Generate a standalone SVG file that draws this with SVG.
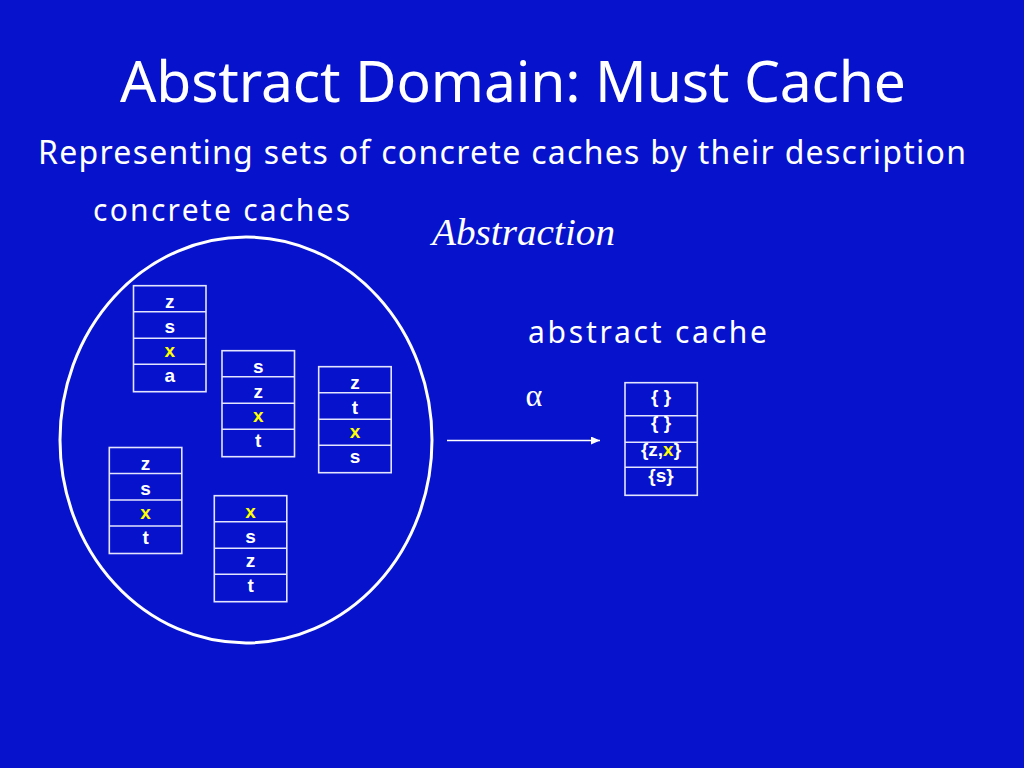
<svg xmlns="http://www.w3.org/2000/svg" width="1024" height="768" viewBox="0 0 1024 768">
<style>
.bg{fill:#0612CC}
.h{font-family:"Comic Sans MS","Noto Sans",sans-serif;fill:#FFFFFF}
.box{fill:none;stroke:#E4E4FF;stroke-width:1.6}
.ln{stroke:#E4E4FF;stroke-width:1.6}
.c{font-family:"Liberation Sans",Arial,sans-serif;font-weight:bold;font-size:19px;fill:#FFFFFF;text-anchor:middle}
.y{fill:#FFFF00}
.serif{font-family:"Liberation Serif","Times New Roman",serif;fill:#FFFFFF}
</style>
<defs>
<marker id="ah" markerWidth="10" markerHeight="10" refX="9" refY="4" orient="auto" markerUnits="userSpaceOnUse">
<path d="M0,0 L9,4 L0,8 Z" fill="#FFFFFF"/>
</marker>
<g id="grid">
<rect class="box" x="0" y="0" width="72.5" height="106"/>
<line class="ln" x1="0" y1="26" x2="72.5" y2="26"/>
<line class="ln" x1="0" y1="52.5" x2="72.5" y2="52.5"/>
<line class="ln" x1="0" y1="78.5" x2="72.5" y2="78.5"/>
</g>
</defs>
<rect class="bg" x="0" y="0" width="1024" height="768"/>

<text class="h" x="120" y="102" font-size="57" textLength="786" lengthAdjust="spacing">Abstract Domain: Must Cache</text>
<text class="h" x="38" y="164" font-size="32" textLength="928" lengthAdjust="spacing">Representing sets of concrete caches by their description</text>
<text class="h" x="93" y="221" font-size="30" textLength="257" lengthAdjust="spacing">concrete caches</text>
<text class="serif" x="432" y="245" font-size="38" font-style="italic" textLength="183" lengthAdjust="spacingAndGlyphs">Abstraction</text>
<text class="h" x="528" y="343" font-size="30" textLength="239" lengthAdjust="spacing">abstract cache</text>

<g id="concrete-set">
<ellipse cx="246" cy="440" rx="186" ry="203" fill="none" stroke="#FFFFFF" stroke-width="3"/>
</g>

<g id="cache1" transform="translate(133.5,285.7)">
<use href="#grid"/>
<text class="c" x="36.25" y="22.6">z</text>
<text class="c" x="36.25" y="47.3">s</text>
<text class="c y" x="36.25" y="71.6">x</text>
<text class="c" x="36.25" y="96.4">a</text>
</g>
<g id="cache2" transform="translate(222,350.7)">
<use href="#grid"/>
<text class="c" x="36.25" y="22.6">s</text>
<text class="c" x="36.25" y="47.3">z</text>
<text class="c y" x="36.25" y="71.6">x</text>
<text class="c" x="36.25" y="96.4">t</text>
</g>
<g id="cache3" transform="translate(318.7,366.7)">
<use href="#grid"/>
<text class="c" x="36.25" y="22.6">z</text>
<text class="c" x="36.25" y="47.3">t</text>
<text class="c y" x="36.25" y="71.6">x</text>
<text class="c" x="36.25" y="96.4">s</text>
</g>
<g id="cache4" transform="translate(109.3,447.5)">
<use href="#grid"/>
<text class="c" x="36.25" y="22.6">z</text>
<text class="c" x="36.25" y="47.3">s</text>
<text class="c y" x="36.25" y="71.6">x</text>
<text class="c" x="36.25" y="96.4">t</text>
</g>
<g id="cache5" transform="translate(214.3,495.7)">
<use href="#grid"/>
<text class="c y" x="36.25" y="22.6">x</text>
<text class="c" x="36.25" y="47.3">s</text>
<text class="c" x="36.25" y="71.6">z</text>
<text class="c" x="36.25" y="96.4">t</text>
</g>

<g id="abstract-cache">
<rect class="box" x="625" y="382.7" width="72.3" height="112.6"/>
<line class="ln" x1="625" y1="415.7" x2="697.3" y2="415.7"/>
<line class="ln" x1="625" y1="442.3" x2="697.3" y2="442.3"/>
<line class="ln" x1="625" y1="467.3" x2="697.3" y2="467.3"/>
<text class="c" x="661" y="402.5">{ }</text>
<text class="c" x="661" y="429">{ }</text>
<text class="c" x="661" y="456">{z,<tspan class="y">x</tspan>}</text>
<text class="c" x="661" y="481.5">{s}</text>
</g>

<g id="connectors">
<line x1="447" y1="440.5" x2="600" y2="440.5" stroke="#FFFFFF" stroke-width="1.6" marker-end="url(#ah)"/>
<text class="serif" x="534" y="406" font-size="32" text-anchor="middle">α</text>
</g>
</svg>
